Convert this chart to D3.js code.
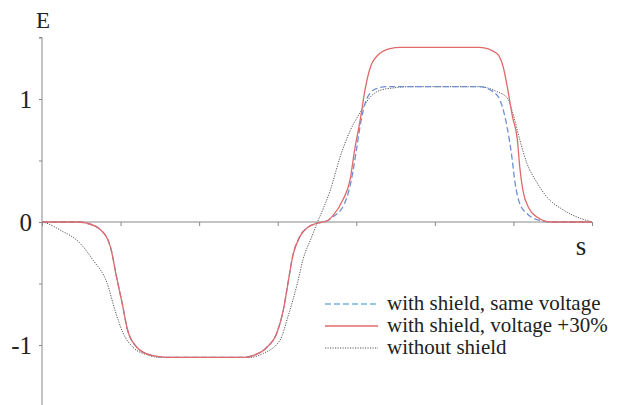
<!DOCTYPE html>
<html>
<head>
<meta charset="utf-8">
<script src="https://cdn.jsdelivr.net/npm/d3@7"></script>
<style>
  body { margin: 0; background: #fff; }
  svg { display: block; }
</style>
</head>
<body>
<svg id="chart" width="619" height="405" font-family="Liberation Serif, DejaVu Serif, serif"></svg>
<script>
// s positions (tick units 0..7) and E values
const sNoShield = [0, 0.06, 0.23, 0.48, 0.65, 0.83, 0.93, 1.03, 1.16, 1.34, 1.50, 2.65, 2.81, 3.03, 3.13, 3.25, 3.32, 3.44, 3.50, 3.58, 3.67, 3.79, 3.92, 4.05, 4.17, 4.30, 4.47, 4.68, 5.57, 5.79, 5.92, 5.99, 6.08, 6.17, 6.30, 6.43, 6.63, 6.85, 7.00];
const eNoShield = [0, -0.01, -0.065, -0.17, -0.31, -0.50, -0.72, -0.90, -1.02, -1.08, -1.10, -1.10, -1.07, -0.96, -0.77, -0.50, -0.31, -0.11, -0.01, 0.11, 0.26, 0.52, 0.74, 0.89, 1.01, 1.07, 1.09, 1.10, 1.10, 1.06, 1.01, 0.89, 0.67, 0.48, 0.32, 0.20, 0.10, 0.03, 0];

const sPlus30 = [0, 0.45, 0.57, 0.74, 0.87, 0.95, 1.02, 1.09, 1.21, 1.37, 1.59, 2.58, 2.71, 2.86, 2.99, 3.07, 3.13, 3.19, 3.28, 3.39, 3.50, 3.63, 3.70, 3.83, 3.92, 3.98, 4.05, 4.11, 4.17, 4.28, 4.43, 4.56, 5.57, 5.79, 5.87, 5.93, 5.99, 6.05, 6.08, 6.12, 6.19, 6.30, 6.47, 7.00];
const ePlus30 = [0, 0, -0.01, -0.06, -0.20, -0.45, -0.66, -0.88, -1.02, -1.08, -1.10, -1.10, -1.08, -1.02, -0.90, -0.72, -0.50, -0.28, -0.12, -0.04, -0.01, 0.01, 0.05, 0.18, 0.34, 0.59, 0.83, 1.07, 1.24, 1.36, 1.41, 1.42, 1.42, 1.37, 1.26, 1.07, 0.85, 0.67, 0.45, 0.26, 0.12, 0.04, 0, 0];

const sSame = [0, 0.45, 0.57, 0.74, 0.87, 0.95, 1.02, 1.09, 1.21, 1.37, 1.59, 2.58, 2.71, 2.86, 2.99, 3.07, 3.13, 3.19, 3.28, 3.39, 3.50, 3.63, 3.70, 3.85, 3.94, 4.00, 4.06, 4.12, 4.18, 4.26, 4.38, 5.57, 5.74, 5.83, 5.92, 5.98, 6.02, 6.08, 6.17, 6.30, 6.50, 7.00];
const eSame = [0, 0, -0.01, -0.06, -0.20, -0.45, -0.66, -0.88, -1.02, -1.08, -1.10, -1.10, -1.08, -1.02, -0.90, -0.72, -0.50, -0.28, -0.12, -0.04, -0.01, 0.01, 0.04, 0.15, 0.35, 0.58, 0.82, 0.98, 1.05, 1.085, 1.10, 1.10, 1.06, 0.99, 0.77, 0.53, 0.32, 0.15, 0.07, 0.02, 0, 0];

const yTicks = [1.5, 1, 0.5, 0, -0.5, -1, -1.5];
const yLabels = ["1", "0", "-1"];
const xTicks = [0, 1, 2, 3, 4, 5, 6, 7];

const series = [
  { name: "without shield", s: sNoShield, e: eNoShield, color: "#555", dash: "1.2,1.3", width: 1 },
  { name: "with shield, same voltage", s: sSame, e: eSame, color: "#6f8fd2", dash: "6,3", width: 1.3 },
  { name: "with shield, voltage +30%", s: sPlus30, e: ePlus30, color: "#e06a6a", dash: null, width: 1.3 }
];

const serif = "Liberation Serif, DejaVu Serif, serif";
const svg = d3.select("#chart");
const x = d3.scaleLinear().domain([0, 7]).range([42, 592]);
const y = d3.scaleLinear().domain([1.5, -1.5]).range([37.5, 406.5]);

// y axis
const yAxis = d3.axisLeft(y).tickValues(yTicks).tickSize(3).tickFormat("");
const gy = svg.append("g").attr("transform", `translate(${x(0)},0)`).call(yAxis);
gy.select(".domain").attr("stroke", "#888").attr("d", `M-3,${y(1.5)}H0V${y(-1.5)}`);
gy.selectAll(".tick line").attr("stroke", "#888");

svg.append("g").selectAll("text")
  .data(yLabels)
  .join("text")
  .attr("x", 32)
  .attr("y", d => y(+d))
  .attr("dy", "0.35em")
  .attr("text-anchor", "end")
  .attr("font-family", serif)
  .attr("font-size", 25)
  .attr("fill", "#222")
  .text(d => d);

// x axis
const xAxis = d3.axisBottom(x).tickValues(xTicks).tickSize(4).tickFormat("");
const gx = svg.append("g").attr("transform", `translate(0,${y(0)})`).call(xAxis);
gx.select(".domain").attr("stroke", "#888").attr("d", `M${x(0)},0H${x(7)}`);
gx.selectAll(".tick line").attr("stroke", "#888");

svg.append("text").attr("x", 43).attr("y", 28).attr("text-anchor", "middle")
  .attr("font-family", serif).attr("font-size", 23).attr("fill", "#222").text("E");
svg.append("text").attr("x", 581).attr("y", 255).attr("text-anchor", "middle")
  .attr("font-family", serif).attr("font-size", 27).attr("fill", "#222").text("s");

// curves
const line = d3.line()
  .x(d => x(d[0]))
  .y(d => y(d[1]))
  .curve(d3.curveMonotoneX);

svg.append("g").attr("fill", "none")
  .selectAll("path")
  .data(series)
  .join("path")
  .attr("d", d => line(d3.zip(d.s, d.e)))
  .attr("stroke", d => d.color)
  .attr("stroke-width", d => d.width)
  .attr("stroke-dasharray", d => d.dash);

// legend
const legendOrder = [series[1], series[2], series[0]];
const lg = svg.append("g").selectAll("g")
  .data(legendOrder)
  .join("g")
  .attr("transform", (d, i) => `translate(325,${304 + i * 22})`);
lg.append("line")
  .attr("x1", 0).attr("x2", 53)
  .attr("stroke", (d, i) => i === 0 ? "#74b4e0" : d.color)
  .attr("stroke-width", d => d.width)
  .attr("stroke-dasharray", d => d.dash);
lg.append("text")
  .attr("x", 62)
  .attr("y", 6)
  .attr("font-family", serif)
  .attr("font-size", 21)
  .attr("fill", "#222")
  .text(d => d.name);
</script>
</body>
</html>
